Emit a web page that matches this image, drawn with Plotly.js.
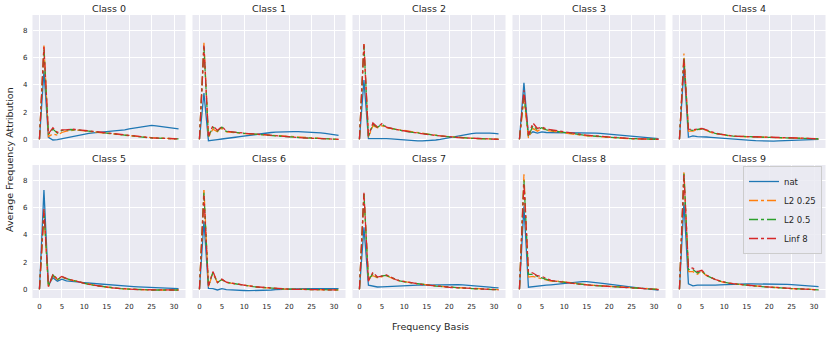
<!DOCTYPE html>
<html>
<head>
<meta charset="utf-8">
<script src="https://cdn.plot.ly/plotly-3.0.1.min.js"></script>
<style>
  html, body { margin: 0; padding: 0; background: #ffffff; }
  #plot { width: 831px; height: 337px; }
</style>
</head>
<body>
<div id="plot"></div>
<script>
// frequency basis index 0..31
const basis = Array.from({ length: 32 }, (v, k) => k);
const classNames = ['Class 0', 'Class 1', 'Class 2', 'Class 3', 'Class 4',
                    'Class 5', 'Class 6', 'Class 7', 'Class 8', 'Class 9'];
const seriesNames = ['nat', 'L2 0.25', 'L2 0.5', 'Linf 8'];

// values, one row per class
const nat = [
  [0, 5.0, 0.15, -0.05, -0.02, 0.05, 0.12, 0.18, 0.25, 0.32, 0.38, 0.43, 0.47, 0.5, 0.53, 0.56, 0.58, 0.61, 0.65, 0.7, 0.76, 0.82, 0.88, 0.94, 0.99, 1.02, 0.98, 0.94, 0.9, 0.86, 0.82, 0.77],
  [0, 3.4, -0.1, -0.08, -0.02, 0.02, 0.05, 0.1, 0.15, 0.2, 0.25, 0.3, 0.35, 0.4, 0.44, 0.47, 0.5, 0.53, 0.55, 0.56, 0.57, 0.57, 0.57, 0.56, 0.55, 0.53, 0.5, 0.47, 0.43, 0.38, 0.34, 0.29],
  [0, 4.35, 0.05, 0.06, 0.06, 0.06, 0.05, 0.03, 0.0, -0.03, -0.06, -0.08, -0.1, -0.11, -0.11, -0.1, -0.08, -0.05, -0.01, 0.05, 0.12, 0.2, 0.27, 0.33, 0.38, 0.42, 0.45, 0.46, 0.46, 0.45, 0.43, 0.4],
  [0, 4.15, 0.3, 0.55, 0.45, 0.55, 0.5, 0.5, 0.5, 0.5, 0.5, 0.5, 0.5, 0.5, 0.5, 0.5, 0.48, 0.46, 0.43, 0.4, 0.37, 0.34, 0.31, 0.28, 0.25, 0.22, 0.18, 0.15, 0.12, 0.09, 0.07, 0.05],
  [0, 5.3, 0.15, 0.25, 0.2, 0.2, 0.17, 0.14, 0.11, 0.08, 0.05, 0.02, 0.0, -0.02, -0.04, -0.06, -0.08, -0.1, -0.12, -0.13, -0.13, -0.13, -0.12, -0.11, -0.1, -0.09, -0.08, -0.06, -0.05, -0.03, -0.02, 0.0],
  [0, 7.3, 0.3, 0.85, 0.6, 0.75, 0.62, 0.6, 0.57, 0.53, 0.48, 0.45, 0.42, 0.39, 0.36, 0.33, 0.3, 0.28, 0.26, 0.24, 0.22, 0.2, 0.18, 0.16, 0.14, 0.12, 0.1, 0.09, 0.07, 0.06, 0.05, 0.05],
  [0, 5.0, 0.07, 0.05, -0.05, 0.05, -0.02, -0.05, -0.07, -0.08, -0.09, -0.1, -0.1, -0.1, -0.09, -0.07, -0.05, -0.03, -0.01, 0.0, 0.02, 0.03, 0.04, 0.05, 0.05, 0.05, 0.05, 0.05, 0.05, 0.05, 0.05, 0.05],
  [0, 4.55, 0.3, 0.22, 0.17, 0.18, 0.2, 0.22, 0.24, 0.26, 0.28, 0.29, 0.3, 0.3, 0.3, 0.31, 0.32, 0.33, 0.34, 0.35, 0.36, 0.36, 0.35, 0.33, 0.31, 0.28, 0.25, 0.22, 0.19, 0.16, 0.13, 0.1],
  [0, 6.1, 0.15, 0.2, 0.2, 0.3, 0.3, 0.33, 0.36, 0.4, 0.45, 0.5, 0.53, 0.55, 0.56, 0.56, 0.54, 0.5, 0.46, 0.42, 0.37, 0.33, 0.28, 0.24, 0.2, 0.16, 0.12, 0.08, 0.05, 0.02, -0.02, -0.05],
  [0, 6.4, 0.4, 0.25, 0.3, 0.3, 0.25, 0.28, 0.3, 0.32, 0.34, 0.36, 0.37, 0.38, 0.39, 0.4, 0.4, 0.4, 0.4, 0.4, 0.4, 0.4, 0.39, 0.38, 0.36, 0.34, 0.32, 0.3, 0.27, 0.24, 0.22, 0.2]
];

const l2_025 = [
  [0, 6.9, 0.2, 0.4, 0.3, 0.5, 0.6, 0.65, 0.68, 0.65, 0.62, 0.6, 0.57, 0.53, 0.5, 0.46, 0.42, 0.38, 0.34, 0.3, 0.26, 0.23, 0.2, 0.17, 0.15, 0.12, 0.1, 0.08, 0.07, 0.05, 0.04, 0.03],
  [0, 7.1, 0.15, 0.75, 0.55, 0.8, 0.55, 0.5, 0.48, 0.45, 0.42, 0.4, 0.37, 0.35, 0.32, 0.3, 0.27, 0.24, 0.21, 0.19, 0.17, 0.15, 0.13, 0.11, 0.09, 0.07, 0.06, 0.04, 0.03, 0.02, 0.01, 0.0],
  [0, 7.0, 0.15, 1.0, 0.85, 1.0, 0.85, 0.8, 0.72, 0.66, 0.6, 0.55, 0.5, 0.45, 0.41, 0.37, 0.33, 0.29, 0.25, 0.22, 0.19, 0.17, 0.14, 0.12, 0.1, 0.08, 0.06, 0.05, 0.04, 0.03, 0.02, 0.01],
  [0, 3.0, 0.1, 0.8, 0.6, 0.8, 0.65, 0.6, 0.55, 0.5, 0.45, 0.4, 0.36, 0.32, 0.29, 0.26, 0.23, 0.2, 0.17, 0.15, 0.13, 0.11, 0.09, 0.07, 0.05, 0.04, 0.03, 0.02, 0.01, 0.0, 0.0, 0.0],
  [0, 6.3, 0.6, 0.6, 0.7, 0.75, 0.65, 0.5, 0.42, 0.36, 0.3, 0.26, 0.23, 0.21, 0.2, 0.19, 0.18, 0.17, 0.16, 0.15, 0.14, 0.13, 0.12, 0.11, 0.1, 0.09, 0.08, 0.07, 0.06, 0.05, 0.05, 0.04],
  [0, 5.6, 0.2, 1.0, 0.7, 0.9, 0.75, 0.68, 0.6, 0.5, 0.42, 0.35, 0.3, 0.25, 0.2, 0.15, 0.11, 0.08, 0.05, 0.03, 0.01, 0.0, -0.02, -0.03, -0.04, -0.05, -0.05, -0.05, -0.05, -0.05, -0.05, -0.05],
  [0, 7.4, 0.2, 1.2, 0.5, 0.7, 0.5, 0.45, 0.38, 0.32, 0.26, 0.22, 0.19, 0.16, 0.13, 0.1, 0.08, 0.06, 0.04, 0.02, 0.01, 0.0, -0.01, -0.02, -0.03, -0.04, -0.04, -0.05, -0.05, -0.05, -0.05, -0.05],
  [0, 7.0, 0.85, 1.0, 0.85, 0.95, 1.0, 0.85, 0.7, 0.62, 0.55, 0.5, 0.45, 0.4, 0.36, 0.32, 0.28, 0.25, 0.22, 0.19, 0.16, 0.14, 0.12, 0.1, 0.08, 0.06, 0.04, 0.03, 0.01, 0.0, -0.02, -0.03],
  [0, 8.45, 0.9, 0.95, 0.85, 0.75, 0.65, 0.6, 0.58, 0.6, 0.55, 0.5, 0.45, 0.4, 0.36, 0.33, 0.3, 0.28, 0.26, 0.24, 0.22, 0.2, 0.18, 0.16, 0.14, 0.12, 0.1, 0.08, 0.06, 0.04, 0.02, 0.0],
  [0, 8.7, 1.3, 1.3, 1.1, 1.3, 1.0, 0.85, 0.7, 0.6, 0.5, 0.45, 0.4, 0.36, 0.33, 0.3, 0.27, 0.24, 0.21, 0.18, 0.15, 0.13, 0.11, 0.09, 0.07, 0.05, 0.04, 0.02, 0.01, 0.0, -0.02, -0.03]
];

const l2_05 = [
  [0, 6.6, 0.35, 0.75, 0.45, 0.65, 0.68, 0.72, 0.7, 0.68, 0.64, 0.6, 0.56, 0.52, 0.48, 0.44, 0.4, 0.36, 0.32, 0.28, 0.25, 0.21, 0.18, 0.15, 0.13, 0.1, 0.09, 0.07, 0.06, 0.05, 0.04, 0.03],
  [0, 6.8, 0.2, 0.9, 0.6, 0.9, 0.58, 0.53, 0.5, 0.47, 0.44, 0.41, 0.38, 0.35, 0.32, 0.29, 0.26, 0.23, 0.21, 0.19, 0.17, 0.15, 0.13, 0.11, 0.09, 0.07, 0.05, 0.04, 0.03, 0.02, 0.01, 0.0],
  [0, 6.9, 0.2, 1.1, 0.88, 1.1, 0.88, 0.8, 0.72, 0.66, 0.6, 0.55, 0.5, 0.45, 0.4, 0.36, 0.32, 0.28, 0.25, 0.21, 0.18, 0.16, 0.13, 0.11, 0.09, 0.07, 0.06, 0.04, 0.03, 0.02, 0.01, 0.0],
  [0, 3.3, 0.2, 1.0, 0.7, 0.85, 0.7, 0.65, 0.58, 0.53, 0.48, 0.43, 0.39, 0.35, 0.31, 0.28, 0.25, 0.22, 0.19, 0.16, 0.14, 0.12, 0.1, 0.08, 0.06, 0.05, 0.04, 0.03, 0.02, 0.01, 0.0, 0.0],
  [0, 6.0, 0.7, 0.65, 0.72, 0.78, 0.68, 0.52, 0.44, 0.37, 0.31, 0.27, 0.24, 0.22, 0.2, 0.19, 0.18, 0.17, 0.16, 0.15, 0.14, 0.13, 0.12, 0.11, 0.1, 0.09, 0.08, 0.07, 0.06, 0.05, 0.05, 0.04],
  [0, 5.8, 0.2, 1.05, 0.72, 0.92, 0.78, 0.69, 0.61, 0.51, 0.42, 0.35, 0.3, 0.25, 0.2, 0.15, 0.11, 0.08, 0.05, 0.03, 0.01, 0.0, -0.02, -0.03, -0.04, -0.05, -0.05, -0.05, -0.05, -0.05, -0.05, -0.05],
  [0, 7.1, 0.22, 1.25, 0.5, 0.72, 0.51, 0.45, 0.39, 0.33, 0.27, 0.22, 0.19, 0.16, 0.13, 0.1, 0.08, 0.06, 0.04, 0.02, 0.01, 0.0, -0.01, -0.02, -0.03, -0.04, -0.04, -0.05, -0.05, -0.05, -0.05, -0.05],
  [0, 7.0, 0.7, 1.15, 0.88, 0.98, 1.02, 0.88, 0.71, 0.62, 0.55, 0.5, 0.45, 0.4, 0.35, 0.31, 0.27, 0.24, 0.21, 0.18, 0.15, 0.13, 0.11, 0.09, 0.07, 0.05, 0.04, 0.02, 0.01, 0.0, -0.02, -0.04],
  [0, 8.0, 1.1, 1.1, 0.95, 0.85, 0.72, 0.62, 0.59, 0.57, 0.52, 0.48, 0.43, 0.39, 0.35, 0.32, 0.29, 0.27, 0.25, 0.23, 0.21, 0.19, 0.17, 0.15, 0.13, 0.11, 0.09, 0.07, 0.05, 0.03, 0.01, -0.01],
  [0, 8.5, 1.45, 1.45, 1.2, 1.35, 1.02, 0.86, 0.71, 0.61, 0.51, 0.45, 0.4, 0.36, 0.33, 0.3, 0.27, 0.24, 0.21, 0.18, 0.15, 0.13, 0.11, 0.09, 0.07, 0.05, 0.04, 0.02, 0.01, 0.0, -0.02, -0.04]
];

const linf8 = [
  [0, 6.8, 0.4, 0.85, 0.5, 0.7, 0.7, 0.75, 0.72, 0.7, 0.66, 0.62, 0.58, 0.54, 0.5, 0.46, 0.42, 0.38, 0.34, 0.3, 0.26, 0.22, 0.19, 0.16, 0.13, 0.11, 0.09, 0.07, 0.06, 0.05, 0.04, 0.03],
  [0, 6.9, 0.25, 1.0, 0.65, 0.95, 0.6, 0.55, 0.52, 0.48, 0.45, 0.42, 0.39, 0.36, 0.33, 0.3, 0.27, 0.24, 0.21, 0.19, 0.17, 0.15, 0.13, 0.11, 0.09, 0.07, 0.05, 0.04, 0.03, 0.02, 0.01, 0.0],
  [0, 7.0, 0.25, 1.2, 0.9, 1.15, 0.9, 0.8, 0.73, 0.67, 0.61, 0.55, 0.5, 0.45, 0.4, 0.36, 0.32, 0.28, 0.24, 0.21, 0.18, 0.16, 0.13, 0.11, 0.09, 0.07, 0.06, 0.04, 0.03, 0.02, 0.01, 0.0],
  [0, 3.6, 0.3, 1.2, 0.8, 0.9, 0.75, 0.7, 0.62, 0.56, 0.5, 0.45, 0.41, 0.37, 0.33, 0.3, 0.27, 0.24, 0.21, 0.18, 0.15, 0.13, 0.11, 0.09, 0.07, 0.05, 0.04, 0.03, 0.02, 0.01, 0.0, 0.0],
  [0, 5.9, 0.75, 0.7, 0.75, 0.8, 0.7, 0.55, 0.45, 0.38, 0.32, 0.27, 0.24, 0.22, 0.21, 0.2, 0.19, 0.18, 0.17, 0.16, 0.15, 0.14, 0.13, 0.12, 0.11, 0.1, 0.09, 0.08, 0.07, 0.06, 0.05, 0.05],
  [0, 5.9, 0.2, 1.1, 0.75, 0.95, 0.8, 0.7, 0.62, 0.52, 0.43, 0.36, 0.3, 0.25, 0.2, 0.15, 0.11, 0.08, 0.05, 0.03, 0.01, 0.0, -0.02, -0.03, -0.04, -0.05, -0.05, -0.05, -0.05, -0.05, -0.05, -0.05],
  [0, 6.9, 0.25, 1.3, 0.5, 0.75, 0.52, 0.46, 0.4, 0.33, 0.27, 0.23, 0.2, 0.17, 0.14, 0.11, 0.09, 0.07, 0.05, 0.03, 0.01, 0.0, -0.01, -0.02, -0.03, -0.04, -0.04, -0.05, -0.05, -0.05, -0.05, -0.05],
  [0, 7.1, 0.6, 1.25, 0.9, 1.0, 1.05, 0.9, 0.72, 0.63, 0.56, 0.5, 0.45, 0.4, 0.35, 0.31, 0.27, 0.24, 0.21, 0.18, 0.15, 0.13, 0.11, 0.09, 0.07, 0.05, 0.04, 0.02, 0.01, 0.0, -0.02, -0.04],
  [0, 7.8, 1.3, 1.2, 1.0, 0.95, 0.8, 0.65, 0.6, 0.55, 0.5, 0.46, 0.42, 0.38, 0.35, 0.32, 0.29, 0.27, 0.25, 0.23, 0.21, 0.19, 0.17, 0.15, 0.13, 0.11, 0.09, 0.07, 0.05, 0.03, 0.01, -0.02],
  [0, 8.4, 1.6, 1.55, 1.3, 1.4, 1.05, 0.88, 0.72, 0.62, 0.52, 0.46, 0.41, 0.37, 0.34, 0.31, 0.28, 0.25, 0.22, 0.19, 0.16, 0.14, 0.12, 0.1, 0.08, 0.06, 0.04, 0.02, 0.01, 0.0, -0.02, -0.04]
];

const W = 831, H = 337;
const colors = ['#1f77b4', '#ff7f0e', '#2ca02c', '#d62728'];
const dashes = ['solid', 'dashdot', 'dashdot', 'dashdot'];
const allSeries = [nat, l2_025, l2_05, linf8];

// panel positions in pixels (seaborn subplot grid)
const colLeft = [32.5, 192.5, 352.5, 512.5, 672.5];
const panelW = 153;
const rowTop = [15, 165];
const panelH = 133;

const font = 'DejaVu Sans, Liberation Sans, sans-serif';
const textColor = '#262626';

let traces = [];
let layout = {
    width: W,
    height: H,
    margin: { l: 0, r: 0, t: 0, b: 0 },
    paper_bgcolor: '#ffffff',
    plot_bgcolor: '#eaeaf2',
    font: { family: font, color: textColor },
    showlegend: true,
    legend: {
        x: 822 / W, y: 1 - 166 / H,
        xanchor: 'right', yanchor: 'top',
        bgcolor: 'rgba(234,234,242,0.85)',
        bordercolor: '#cccccc',
        borderwidth: 1,
        font: { size: 8.5, family: font, color: textColor },
        tracegroupgap: 0
    },
    annotations: []
};

for (let c = 0; c < 10; c++) {
    let row = Math.floor(c / 5), col = c % 5;
    let ax = c === 0 ? '' : String(c + 1);
    let x0 = colLeft[col], y0 = rowTop[row];

    // shared axes: x labels only on bottom row, y labels only on left column
    layout['xaxis' + ax] = {
        domain: [x0 / W, (x0 + panelW) / W],
        anchor: 'y' + ax,
        range: [-1.55, 32.55],
        tickvals: [0, 5, 10, 15, 20, 25, 30],
        showticklabels: row === 1,
        showgrid: true, gridcolor: '#ffffff', gridwidth: 1,
        zeroline: false, showline: false, ticks: '',
        ticklabelstandoff: 3,
        tickfont: { size: 7, family: font, color: textColor }
    };
    layout['yaxis' + ax] = {
        domain: [1 - (y0 + panelH) / H, 1 - y0 / H],
        anchor: 'x' + ax,
        range: [-0.64, 9.14],
        tickvals: [0, 2, 4, 6, 8],
        showticklabels: col === 0,
        showgrid: true, gridcolor: '#ffffff', gridwidth: 1,
        zeroline: false, showline: false, ticks: '',
        ticklabelstandoff: 4,
        tickfont: { size: 7, family: font, color: textColor }
    };

    layout.annotations.push({
        text: classNames[c],
        xref: 'paper', yref: 'paper',
        x: (x0 + panelW / 2) / W, y: 1 - (y0 - 7) / H,
        xanchor: 'center', yanchor: 'middle',
        showarrow: false,
        font: { size: 9.5, family: font, color: textColor }
    });

    for (let s = 0; s < 4; s++) {
        traces.push({
            x: basis,
            y: allSeries[s][c],
            xaxis: 'x' + ax,
            yaxis: 'y' + ax,
            mode: 'lines',
            name: seriesNames[s],
            legendgroup: seriesNames[s],
            showlegend: c === 9,
            line: { color: colors[s], width: 1.3, dash: dashes[s] },
            hoverinfo: 'skip'
        });
    }
}

// shared axis labels
layout.annotations.push({
    text: 'Frequency Basis',
    xref: 'paper', yref: 'paper',
    x: 430 / W, y: 1 - 326 / H,
    xanchor: 'center', yanchor: 'middle',
    showarrow: false,
    font: { size: 9.5, family: font, color: textColor }
});
layout.annotations.push({
    text: 'Average Frequency Attribution',
    xref: 'paper', yref: 'paper',
    x: 9 / W, y: 1 - 160 / H,
    xanchor: 'center', yanchor: 'middle',
    textangle: -90,
    showarrow: false,
    font: { size: 9.5, family: font, color: textColor }
});

Plotly.newPlot('plot', traces, layout, { displayModeBar: false, staticPlot: true });
</script>
</body>
</html>
